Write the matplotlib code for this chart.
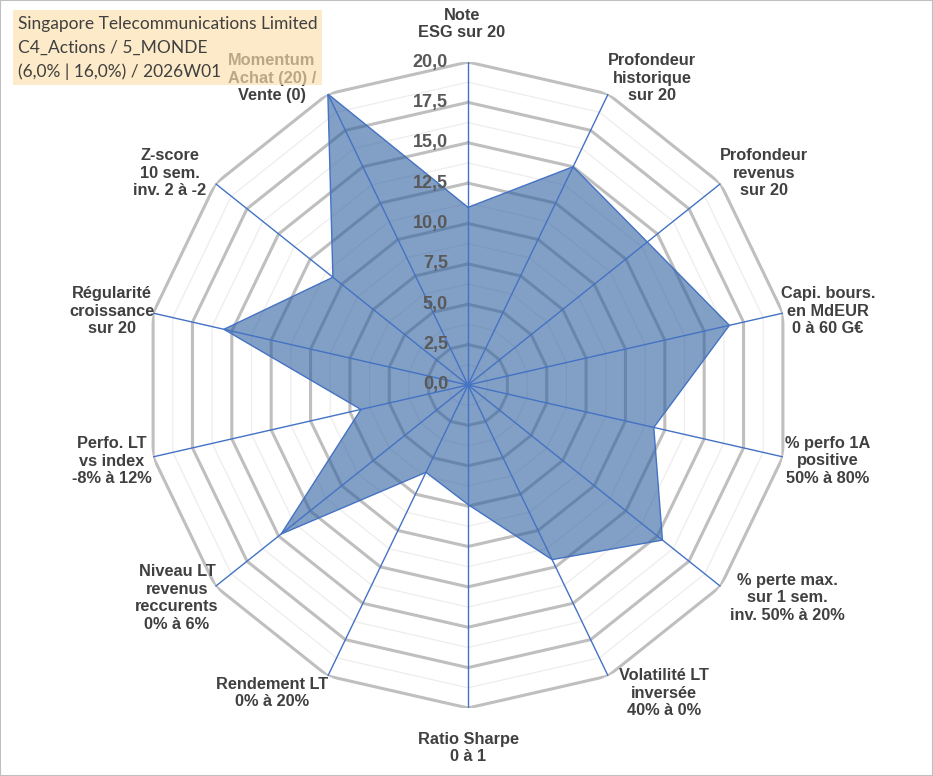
import numpy as np
import matplotlib
matplotlib.use('Agg')
from matplotlib import pyplot as plt
from matplotlib.patches import Rectangle
from matplotlib.transforms import offset_copy

# axes of the radar, clockwise from the top
categories = ['Note\nESG sur 20',
              'Profondeur\nhistorique\nsur 20',
              'Profondeur\nrevenus\nsur 20',
              'Capi. bours.\nen MdEUR\n0 à 60 G€',
              '% perfo 1A\npositive\n50% à 80%',
              '% perte max.\nsur 1 sem.\ninv. 50% à 20%',
              'Volatilité LT\ninversée\n40% à 0%',
              'Ratio Sharpe\n0 à 1',
              'Rendement LT\n0% à 20%',
              'Niveau LT\nrevenus\nreccurents\n0% à 6%',
              'Perfo. LT\nvs index\n-8% à 12%',
              'Régularité\ncroissance\nsur 20',
              'Z-score\n10 sem.\ninv. 2 à -2',
              'Momentum\nAchat (20) /\nVente (0)']
scores = [11.0, 15.0, 14.2, 16.6, 11.8, 15.4, 12.0, 7.4, 6.0, 14.8, 6.8, 15.5, 10.7, 20.0]
ring_major = [0, 2.5, 5, 7.5, 10, 12.5, 15, 17.5, 20]
ring_minor = [1.25, 3.75, 6.25, 8.75, 11.25, 13.75, 16.25, 18.75]
title_lines = ['Singapore Telecommunications Limited',
               'C4_Actions / 5_MONDE',
               '(6,0% | 16,0%) / 2026W01']

# label centres in pixels (x, y from top)
label_pos = [(462, 24), (652, 78), (764, 173), (828, 311), (828, 461), (787, 598),
             (664, 693), (468, 748), (272, 693), (177, 598), (112, 461), (112, 311),
             (170, 173), (272, 78)]

W, H = 933, 776
fig = plt.figure(figsize=(W / 100, H / 100), dpi=100)
cx, cy, rad = 468, 385, 323
ax = fig.add_axes([(cx - rad) / W, 1 - (cy + rad) / H, 2 * rad / W, 2 * rad / H],
                  projection='polar')
ax.set_theta_zero_location('N')
ax.set_theta_direction(-1)
ax.set_ylim(0, 20)
ax.axis('off')

n = len(categories)
theta = np.linspace(0, 2 * np.pi, n, endpoint=False)
theta_c = np.append(theta, theta[0])

for r in ring_minor:
    ax.plot(theta_c, [r] * (n + 1), color='#EDEDED', lw=0.9, zorder=1)
for r in ring_major[1:]:
    ax.plot(theta_c, [r] * (n + 1), color='#BFBFBF', lw=2.2, zorder=2)

vals = np.append(scores, scores[0])
ax.fill(theta_c, vals, color='#2F609F', alpha=0.6, lw=0, zorder=3)
ax.plot(theta_c, vals, color='#4472C4', lw=1.0, zorder=4)

for t in theta:
    ax.plot([t, t], [0, 20], color='#4472C4', lw=1.0, zorder=5)

tr = offset_copy(ax.transData, fig=fig, x=-20, y=0, units='dots')
for r in ring_major:
    ax.text(0, r, f'{r:.1f}'.replace('.', ','), transform=tr, ha='right', va='center',
            fontsize=13, fontweight='bold', color='#595959',
            family='Liberation Sans', zorder=6)

for lab, (px, py) in zip(categories, label_pos):
    fig.text(px / W, 1 - py / H, lab, ha='center', va='center', multialignment='center',
             fontsize=11.8, fontweight='bold', color='#404040', family='Liberation Sans',
             linespacing=1.22)

# title box on top, partly hiding the Momentum label
fig.patches.append(Rectangle((13 / W, 1 - 85 / H), 309 / W, 75 / H, transform=fig.transFigure,
                             facecolor='#FBDFAB', alpha=0.65, edgecolor='none', zorder=10))
for i, line in enumerate(title_lines):
    fig.text(18 / W, 1 - (24 + 24 * i) / H, line, ha='left', va='center', fontsize=12.5,
             color='#404040', family='Lato', zorder=11)

fig.patches.append(Rectangle((0, 0), 1, 1, transform=fig.transFigure, fill=False,
                             edgecolor='#BFBFBF', lw=1.5))

fig.savefig('out.png', dpi=100)
